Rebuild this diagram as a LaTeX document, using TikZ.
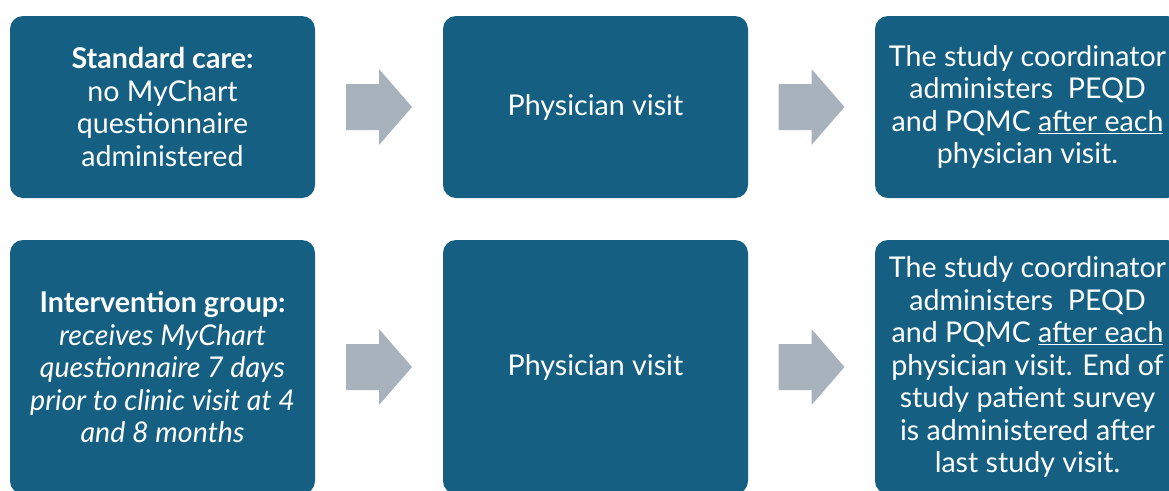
\documentclass[tikz,border=0pt]{standalone}
\usepackage{fontspec}
\setmainfont{Lato}
\usetikzlibrary{calc}
\definecolor{boxblue}{HTML}{156082}
\definecolor{arrowgray}{HTML}{A7B2BD}
\tikzset{
  stage/.style={fill=boxblue, rounded corners=13pt, minimum width=305pt,
    inner sep=0pt, text=white, align=center,
    font=\fontsize{28.6}{32.5}\selectfont},
  toprow/.style={stage, minimum height=182pt},
  bottomrow/.style={stage, minimum height=254pt},
  blockarrow/.style={fill=arrowgray}
}
% grey block arrow centred in the gap between two stages
\newcommand{\stagearrow}[2]{%
  \fill[blockarrow] ($(#1.east)!0.5!(#2.west)$) ++(-33,-23) -- ++(33,0)
    -- ++(0,-15) -- ++(33,38) -- ++(-33,38) -- ++(0,-15) -- ++(-33,0) -- cycle;}
\begin{document}
\begin{tikzpicture}[x=1pt,y=-1pt]
\useasboundingbox (0,0) rectangle (1169,490);
\clip (0,0) rectangle (1169,490);

% standard care arm
\node[toprow] (sc) at (162.5,107) {\textbf{Standard care:}\\no MyChart\\questionnaire\\administered};
\node[toprow] (pv1) at (595.5,107) {Physician visit};
\node[toprow] (co1) at (1027.5,107) {The study coordinator\\administers\ \ PEQD\\and PQMC \underline{after each}\\physician visit.};

% intervention arm
\node[bottomrow] (ig) at (162.5,367) {\textbf{Intervention group:}\\\textit{receives MyChart}\\\textit{questionnaire 7 days}\\\textit{prior to clinic visit at 4}\\\textit{and 8 months}};
\node[bottomrow] (pv2) at (595.5,367) {Physician visit};
\node[bottomrow] (co2) at (1027.5,367) {The study coordinator\\administers\ \ PEQD\\and PQMC \underline{after each}\\physician visit. End of\\study patient survey\\is administered after\\last study visit.};

\stagearrow{sc}{pv1}
\stagearrow{pv1}{co1}
\stagearrow{ig}{pv2}
\stagearrow{pv2}{co2}
\end{tikzpicture}
\end{document}
